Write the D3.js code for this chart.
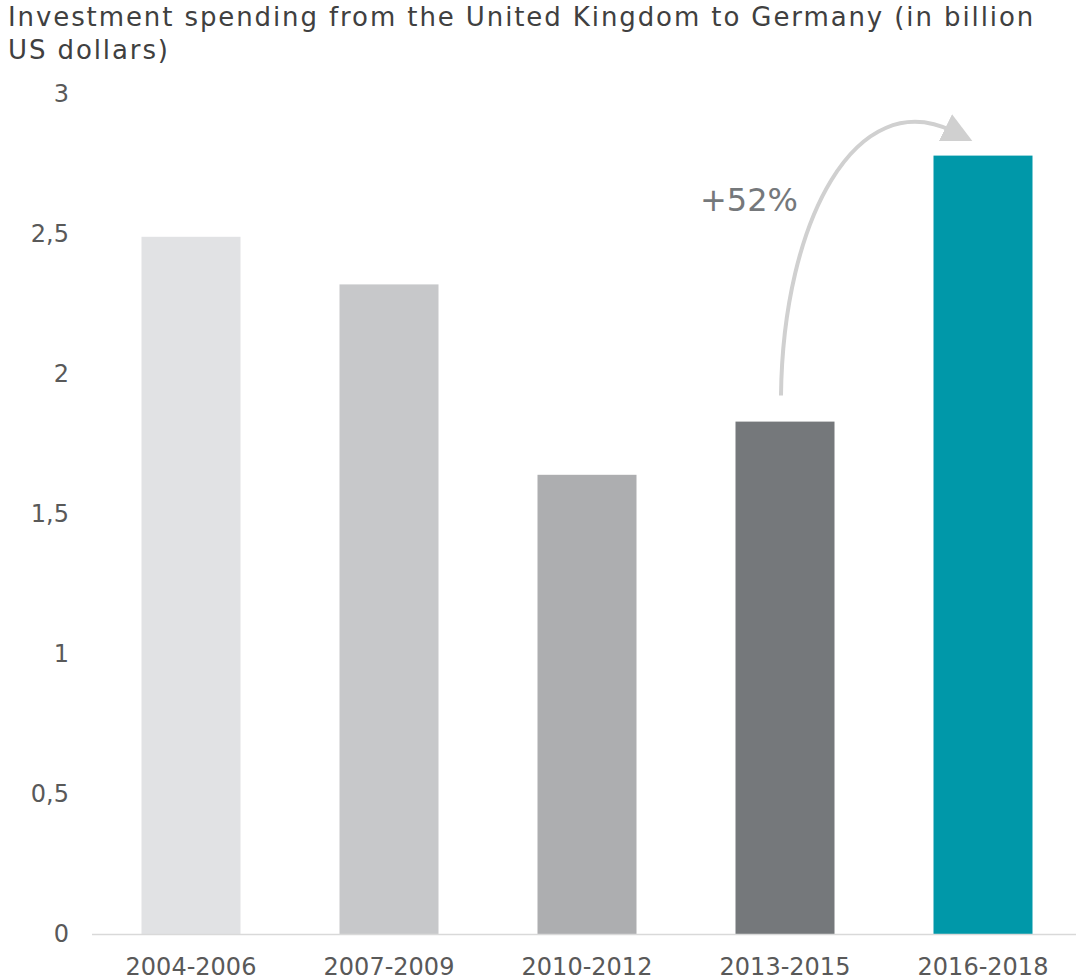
<!DOCTYPE html>
<html>
<head>
<meta charset="utf-8">
<script src="https://cdn.jsdelivr.net/npm/d3@7"></script>
<style>
  body { margin: 0; background: #fff; }
  text { font-family: "DejaVu Sans", Verdana, sans-serif; }
</style>
</head>
<body>
<div class="container"></div>
<script>
const periods = ['2004-2006', '2007-2009', '2010-2012', '2013-2015', '2016-2018'];
const values = [2.49, 2.32, 1.64, 1.83, 2.78];
const barColors = ['#e1e2e4', '#c7c8ca', '#adaeb0', '#75787b', '#0098a9'];
const yTicks = [0, 0.5, 1, 1.5, 2, 2.5, 3];
const growthLabel = '+52%';
const titleLines = ['Investment spending from the United Kingdom to Germany (in billion', 'US dollars)'];

const width = 1076, height = 980;
const svg = d3.select('.container').append('svg')
  .attr('width', width)
  .attr('height', height);

// title
svg.append('text')
  .attr('fill', '#404040')
  .style('font-size', '26px')
  .style('letter-spacing', '1.9px')
  .selectAll('tspan')
  .data(titleLines)
  .enter()
  .append('tspan')
  .attr('x', 8)
  .attr('y', (d, i) => 26 + i * 33)
  .text(d => d);

const x = d3.scaleBand().domain(periods).range([92, 1082])
  .paddingInner(0.5).paddingOuter(0.25);
const y = d3.scaleLinear().domain([0, 3]).range([934, 94]);

// y labels
svg.append('g')
  .selectAll('text')
  .data(yTicks)
  .enter()
  .append('text')
  .attr('x', 69)
  .attr('y', d => y(d))
  .attr('dy', '0.35em')
  .attr('text-anchor', 'end')
  .attr('fill', '#595959')
  .style('font-size', '24px')
  .text(d => String(d).replace('.', ','));

// bars
svg.append('g')
  .selectAll('rect')
  .data(values)
  .enter()
  .append('rect')
  .attr('x', (d, i) => x(periods[i]))
  .attr('y', d => y(d))
  .attr('width', x.bandwidth())
  .attr('height', d => y(0) - y(d))
  .attr('fill', (d, i) => barColors[i]);

// baseline
svg.append('line')
  .attr('x1', 92).attr('x2', width)
  .attr('y1', y(0) + 0.5).attr('y2', y(0) + 0.5)
  .attr('stroke', '#d9d9d9')
  .attr('stroke-width', 1.5);

// x labels
svg.append('g')
  .selectAll('text')
  .data(periods)
  .enter()
  .append('text')
  .attr('x', d => x(d) + x.bandwidth() / 2)
  .attr('y', 975)
  .attr('text-anchor', 'middle')
  .attr('fill', '#595959')
  .style('font-size', '24px')
  .text(d => d);

// growth arrow from 2013-2015 to 2016-2018
svg.append('defs').append('marker')
  .attr('id', 'head')
  .attr('viewBox', '0 0 10 10')
  .attr('refX', 3).attr('refY', 5)
  .attr('markerWidth', 7.5).attr('markerHeight', 7.5)
  .attr('markerUnits', 'strokeWidth')
  .attr('orient', 'auto')
  .append('path')
  .attr('d', 'M0,0 L10,5 L0,10 Z')
  .attr('fill', '#d0d0d0');

const x0 = x(periods[3]) + x.bandwidth() / 2 - 4;
const y0 = y(values[3]) - 26;
const x1 = x(periods[4]) + 20;
const y1 = y(values[4]) - 24;
svg.append('path')
  .attr('d', `M${x0},${y0} C${x0 + 2},${y0 - 175} ${x0 + 75},${y1 - 48} ${x1},${y1}`)
  .attr('fill', 'none')
  .attr('stroke', '#d0d0d0')
  .attr('stroke-width', 4)
  .attr('marker-end', 'url(#head)');

svg.append('text')
  .attr('x', 700)
  .attr('y', 211)
  .attr('fill', '#75787b')
  .style('font-size', '32px')
  .text(growthLabel);
</script>
</body>
</html>
